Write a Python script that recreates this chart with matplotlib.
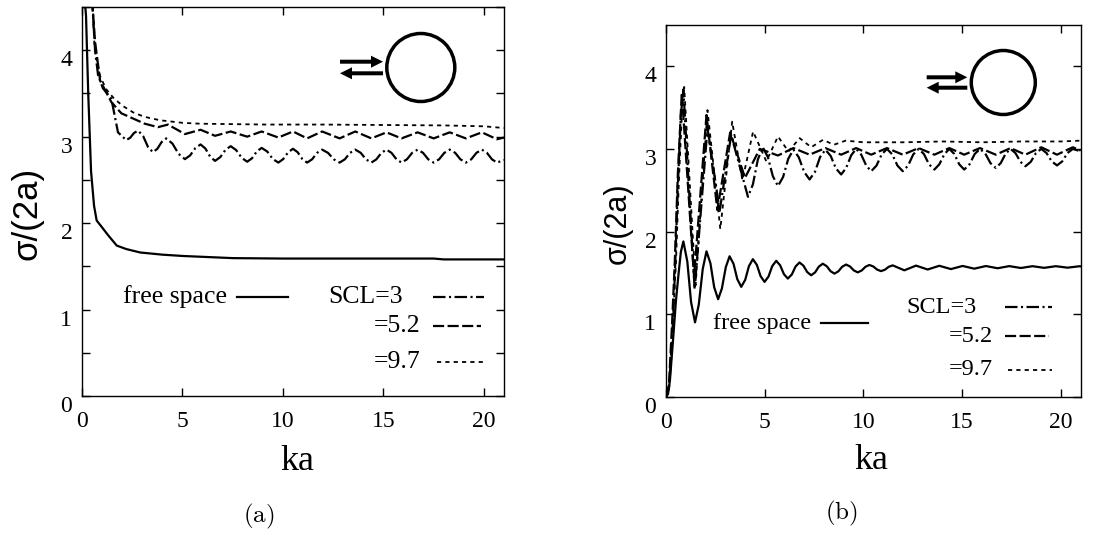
import matplotlib
matplotlib.use('Agg')
import matplotlib.pyplot as plt
from matplotlib.patches import Circle, FancyArrow
from matplotlib.ticker import MultipleLocator

plt.rcParams['font.family'] = ['Liberation Serif', 'DejaVu Serif']
plt.rcParams['mathtext.fontset'] = 'cm'
plt.rcParams['lines.scale_dashes'] = False

# ---- panel (a) data ----
ka_a_free = [0.13, 0.2, 0.31, 0.45, 0.6, 0.73, 1.0, 1.3, 1.73, 2.2, 2.9, 4.0, 5.0, 7.5, 10, 17.5, 18, 21]
sig_a_free = [4.6, 4.4, 3.5, 2.6, 2.2, 2.03, 1.95, 1.86, 1.74, 1.70, 1.66, 1.635, 1.62, 1.595, 1.59, 1.59, 1.58, 1.58]

ka_a_scl3 = [0.5, 0.65, 0.8, 1.04, 1.46, 1.79, 2.2, 2.40, 2.59, 2.79, 3.04, 3.28, 3.53, 3.75, 3.97, 4.19,
             4.50, 4.81, 5.12, 5.38, 5.64, 5.9, 6.14, 6.38, 6.62, 6.88, 7.14, 7.4, 7.67, 7.95, 8.22, 8.46,
             8.70, 8.94, 9.22, 9.49, 9.77, 10.01, 10.26, 10.5, 10.73, 10.97, 11.2, 11.45, 11.70, 11.95,
             12.24, 12.53, 12.82, 13.08, 13.34, 13.6, 13.87, 14.13, 14.4, 14.65, 14.9, 15.15, 15.4, 15.65,
             15.9, 16.17, 16.43, 16.7, 16.97, 17.23, 17.5, 17.77, 18.03, 18.3, 18.57, 18.83, 19.1, 19.37,
             19.63, 19.9, 20.15, 20.4, 20.65, 21.0]
sig_a_scl3 = [4.6, 4.0, 3.71, 3.56, 3.44, 3.05, 2.96, 2.988, 3.043, 3.07, 3.008, 2.883, 2.82, 2.86, 2.94, 2.98,
              2.92, 2.80, 2.74, 2.783, 2.868, 2.91, 2.863, 2.768, 2.72, 2.763, 2.848, 2.89, 2.845, 2.755, 2.71, 2.75,
              2.83, 2.87, 2.828, 2.743, 2.70, 2.74, 2.82, 2.86, 2.82, 2.74, 2.70, 2.738, 2.813, 2.85,
              2.813, 2.738, 2.70, 2.738, 2.813, 2.85, 2.813, 2.738, 2.70, 2.738, 2.813, 2.85, 2.813, 2.738,
              2.70, 2.738, 2.813, 2.85, 2.813, 2.738, 2.70, 2.738, 2.813, 2.85, 2.813, 2.738, 2.70, 2.738,
              2.813, 2.85, 2.813, 2.738, 2.70, 2.73]

ka_a_scl52 = [0.5, 0.65, 0.9, 1.46, 1.96, 2.54, 3.12, 3.78, 4.28, 5.12, 5.9, 6.62, 7.4, 8.22, 8.94, 9.77,
              10.5, 11.2, 11.95, 12.82, 13.6, 14.4, 15.15, 15.9, 16.7, 17.5, 18.3, 19.1, 19.9, 20.65, 21.0]
sig_a_scl52 = [4.6, 4.1, 3.65, 3.40, 3.27, 3.21, 3.15, 3.11, 3.14, 3.03, 3.08, 3.01, 3.06, 3.0, 3.06, 2.99,
               3.06, 2.98, 3.06, 2.98, 3.06, 2.98, 3.05, 2.98, 3.05, 2.98, 3.05, 2.98, 3.05, 2.97, 2.99]

ka_a_scl97 = [0.5, 0.63, 0.9, 1.2, 1.56, 2.0, 2.55, 3.1, 3.88, 5.0, 5.87, 7.5, 9.2, 12.0, 15.0, 18.0, 20.0, 21.0]
sig_a_scl97 = [4.6, 4.02, 3.7, 3.55, 3.45, 3.36, 3.28, 3.23, 3.19, 3.16, 3.15, 3.145, 3.14, 3.14, 3.135, 3.13, 3.12, 3.10]

# ---- panel (b) data ----
ka_b_free = [0, 0.1, 0.2, 0.37, 0.5, 0.62, 0.75, 0.88,
             1.08, 1.27, 1.47, 1.66, 1.86, 2.05, 2.25, 2.44, 2.64, 2.83, 3.03, 3.22,
             3.42, 3.61, 3.81, 4.01, 4.20, 4.40, 4.60, 4.79, 4.99, 5.19, 5.38, 5.58,
             5.78, 5.97, 6.17, 6.37, 6.56, 6.76, 6.96, 7.15, 7.35, 7.55, 7.74, 7.94,
             8.14, 8.33, 8.53, 8.73, 8.92, 9.12, 9.32, 9.51, 9.71, 9.91, 10.10, 10.30,
             10.50, 10.69, 10.89, 11.09, 11.28, 11.48,
             12.07, 12.66, 13.25, 13.84, 14.43, 15.02, 15.61, 16.2, 16.79, 17.38, 17.97,
             18.56, 19.15, 19.74, 20.33, 20.92, 21.0]
sig_b_free = [0, 0.03, 0.2, 0.73, 1.15, 1.45, 1.75, 1.88,
              1.635, 1.145, 0.90, 1.115, 1.545, 1.76, 1.615, 1.325, 1.18, 1.31, 1.57, 1.70,
              1.608, 1.423, 1.33, 1.414, 1.581, 1.665, 1.596, 1.459, 1.39, 1.454, 1.581, 1.645,
              1.591, 1.484, 1.43, 1.479, 1.576, 1.625, 1.586, 1.509, 1.47, 1.505, 1.575, 1.61,
              1.58, 1.52, 1.49, 1.518, 1.573, 1.60, 1.576, 1.529, 1.505, 1.528, 1.573, 1.595,
              1.576, 1.539, 1.52, 1.538, 1.573, 1.59,
              1.53, 1.587, 1.54, 1.585, 1.545, 1.583, 1.55, 1.582, 1.555, 1.581, 1.558,
              1.58, 1.56, 1.58, 1.562, 1.579, 1.578]

ka_b_scl3 = [0, 0.15, 0.3, 0.45, 0.6, 0.75, 0.88, 1.45, 2.1, 2.72, 3.3,
             4.15, 4.40, 4.65, 4.9, 5.16, 5.41, 5.67, 5.93, 6.19, 6.45, 6.72, 7.00, 7.27,
             7.54, 7.80, 8.07, 8.34, 8.60, 8.87, 9.12, 9.38, 9.63, 9.88, 10.14, 10.39,
             10.66, 10.92, 11.19, 11.46, 11.72, 11.99, 12.26, 12.52, 12.79, 13.06, 13.32, 13.59,
             13.84, 14.10, 14.35, 14.60, 14.85, 15.1, 15.37, 15.63, 15.9, 16.17, 16.43, 16.7,
             16.95, 17.2, 17.45, 17.7, 17.95, 18.2, 18.47, 18.73, 19.0, 19.27, 19.53, 19.8,
             20.07, 20.33, 20.6, 21.0]
sig_b_scl3 = [0, 0.1, 0.6, 1.5, 2.55, 3.4, 3.72, 1.3, 3.25, 2.25, 3.17,
              2.42, 2.57, 2.87, 3.02, 2.90, 2.67, 2.55, 2.66, 2.88, 2.99, 2.90, 2.72, 2.63,
              2.72, 2.90, 2.99, 2.915, 2.765, 2.69, 2.768, 2.923, 3.0, 2.933, 2.798, 2.73,
              2.798, 2.933, 3.0, 2.933, 2.798, 2.73, 2.798, 2.933, 3.0, 2.938, 2.813, 2.75,
              2.813, 2.938, 3.0, 2.938, 2.813, 2.75, 2.813, 2.938, 3.0, 2.943, 2.828, 2.77,
              2.828, 2.943, 3.0, 2.948, 2.843, 2.79, 2.843, 2.948, 3.0, 2.95, 2.85, 2.80,
              2.85, 2.95, 3.0, 2.97]

ka_b_scl52 = [0, 0.15, 0.3, 0.45, 0.6, 0.8, 1.42, 2.05, 2.6, 3.25, 4.0, 4.75, 5.67, 6.45, 7.27, 8.07,
              8.87, 9.63, 10.39, 11.19, 11.99, 12.79, 13.59, 14.35, 15.1, 15.9, 16.7, 17.45, 18.2,
              19.0, 19.8, 20.6, 21.0]
sig_b_scl52 = [0, 0.15, 0.85, 1.66, 2.7, 3.68, 1.45, 3.41, 2.26, 3.2, 2.65, 3.0, 2.92, 3.01, 2.93, 3.01,
               2.93, 3.01, 2.93, 3.01, 2.93, 3.01, 2.93, 3.01, 2.93, 3.01, 2.93, 3.01, 2.93,
               3.02, 2.93, 3.02, 2.98]

ka_b_scl97 = [0, 0.15, 0.3, 0.5, 0.65, 0.8, 0.92, 1.5, 2.1, 2.75, 3.35, 3.87, 4.41, 5.08, 5.67, 6.2,
              6.77, 7.35, 7.95, 8.5, 9.1, 10.0, 12.0, 14.0, 16.0, 18.0, 20.0, 21.0]
sig_b_scl97 = [0, 0.1, 0.7, 1.6, 2.6, 3.4, 3.75, 1.35, 3.47, 2.03, 3.33, 2.62, 3.21, 2.85, 3.15, 2.97,
               3.13, 3.02, 3.11, 3.05, 3.10, 3.08, 3.08, 3.09, 3.08, 3.09, 3.09, 3.10]

x_ticks = [0, 5, 10, 15, 20]
y_ticks = [0, 1, 2, 3, 4]

# line styles (gnuplot look)
SOLID = dict(color='black', lw=1.6)
DASHDOT = dict(color='black', lw=1.6, dashes=[9, 2.5, 1.5, 2.5])
DASHED = dict(color='black', lw=1.6, dashes=[8, 2.5])
DOTTED = dict(color='black', lw=1.3, dashes=[3, 3])

W, H = 1096, 533
fig = plt.figure(figsize=(W / 100, H / 100), dpi=100)


def px_axes(left, top, right, bottom):
    return [left / W, 1 - bottom / H, (right - left) / W, (bottom - top) / H]


def setup(ax, minor):
    ax.set_xlim(0, 21)
    ax.set_ylim(0, 4.5)
    ax.set_xticks(x_ticks)
    ax.set_yticks(y_ticks)
    if minor:
        ax.yaxis.set_minor_locator(MultipleLocator(0.5))
    ax.tick_params(which='both', direction='in', length=6, width=1, top=True, right=True)
    ax.tick_params(axis='x', labelsize=17, pad=11)
    ax.tick_params(axis='y', labelsize=17, pad=7)
    for lab in ax.get_yticklabels():
        lab.set_va('top')
    for s in ax.spines.values():
        s.set_linewidth(1.0)


def legend_entry(ax, text, x_text, y, x0, x1, style, fs):
    ax.text(x_text, y, text, transform=ax.transAxes, ha='right', va='center', fontsize=fs)
    ax.plot([x0, x1], [y, y], transform=ax.transAxes, clip_on=False, **style)


def inset(cx, cy, r, xl, xr, y_up, y_dn):
    t = fig.dpi_scale_trans
    fig.add_artist(Circle((cx / 100, (H - cy) / 100), r / 100, transform=t,
                          fill=False, lw=2.5, color='black'))
    kw = dict(width=0.04, head_width=0.12, head_length=0.12, length_includes_head=True,
              transform=t, color='black', lw=0)
    fig.add_artist(FancyArrow(xl / 100, (H - y_up) / 100, (xr - xl) / 100, 0, **kw))
    fig.add_artist(FancyArrow(xr / 100, (H - y_dn) / 100, (xl - xr) / 100, 0, **kw))


# ---- panel (a) ----
ax1 = fig.add_axes(px_axes(82, 7, 504, 396))
ax1.plot(ka_a_free, sig_a_free, **SOLID)
ax1.plot(ka_a_scl3, sig_a_scl3, **DASHDOT)
ax1.plot(ka_a_scl52, sig_a_scl52, **DASHED)
ax1.plot(ka_a_scl97, sig_a_scl97, **DOTTED)
setup(ax1, True)
ax1.set_xlabel('ka', fontsize=26)
ax1.xaxis.set_label_coords(0.509, -0.19)
ax1.xaxis.label.set_va('baseline')
ax1.set_ylabel('σ/(2a)', fontsize=25, family=['Liberation Sans', 'DejaVu Sans'])
ax1.yaxis.set_label_coords(-0.13, 0.47)
ax1.yaxis.label.set_va('center')

legend_entry(ax1, 'free space', 0.343, 0.255, 0.367, 0.488, SOLID, 18.5)
legend_entry(ax1, 'SCL=3', 0.761, 0.255, 0.832, 0.953, DASHDOT, 18.5)
legend_entry(ax1, '=5.2', 0.803, 0.18, 0.832, 0.946, DASHED, 18.5)
legend_entry(ax1, '=9.7', 0.803, 0.088, 0.841, 0.953, DOTTED, 18.5)

# ---- panel (b) ----
ax2 = fig.add_axes(px_axes(666, 25, 1080.7, 396.7))
ax2.plot(ka_b_free, sig_b_free, **SOLID)
ax2.plot(ka_b_scl3, sig_b_scl3, **DASHDOT)
ax2.plot(ka_b_scl52, sig_b_scl52, **DASHED)
ax2.plot(ka_b_scl97, sig_b_scl97, **DOTTED)
setup(ax2, False)
ax2.set_xlabel('ka', fontsize=26)
ax2.xaxis.set_label_coords(0.496, -0.195)
ax2.xaxis.label.set_va('baseline')
ax2.set_ylabel('σ/(2a)', fontsize=22, family=['Liberation Sans', 'DejaVu Sans'])
ax2.yaxis.set_label_coords(-0.116, 0.467)
ax2.yaxis.label.set_va('center')

legend_entry(ax2, 'SCL=3', 0.748, 0.2405, 0.8175, 0.930, DASHDOT, 17.5)
legend_entry(ax2, 'free space', 0.349, 0.1975, 0.374, 0.4875, SOLID, 17.5)
legend_entry(ax2, '=5.2', 0.788, 0.163, 0.8175, 0.9235, DASHED, 17.5)
legend_entry(ax2, '=9.7', 0.788, 0.072, 0.8247, 0.931, DOTTED, 17.5)

# scatterer sketches
inset(420.8, 67.5, 34, 340, 383, 61.7, 73.3)
inset(1003.3, 82.5, 32, 926.7, 967.3, 77.3, 87.7)

fig.text(258.5 / W, 1 - 516 / H, r'$\mathrm{(a)}$', ha='center', va='center', fontsize=18)
fig.text(841.3 / W, 1 - 513 / H, r'$\mathrm{(b)}$', ha='center', va='center', fontsize=18)

fig.savefig('out.png', dpi=100)
